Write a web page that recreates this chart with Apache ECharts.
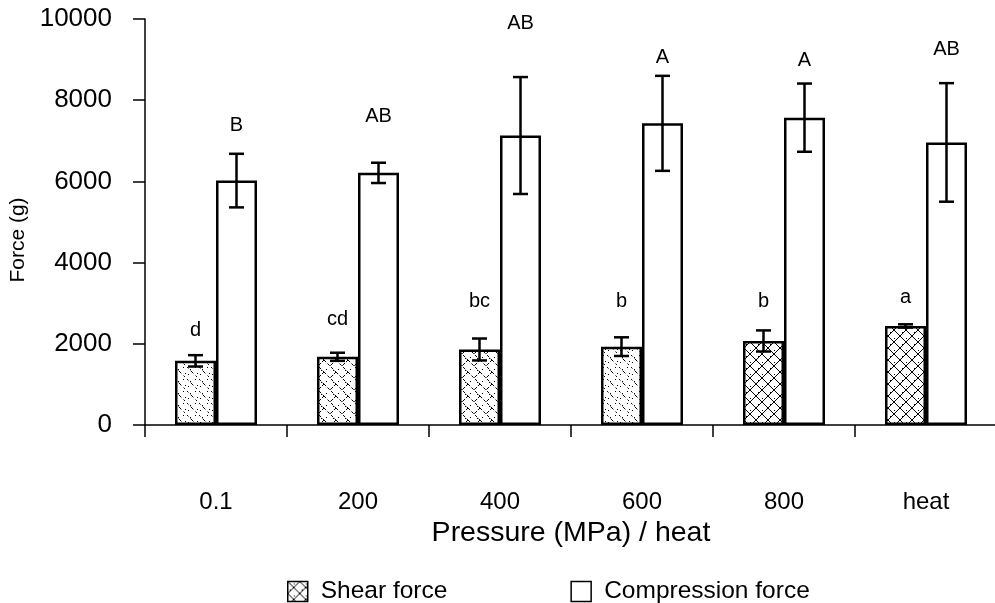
<!DOCTYPE html>
<html>
<head>
<meta charset="utf-8">
<script src="https://cdn.jsdelivr.net/npm/echarts@6/dist/echarts.min.js"></script>
<style>
html,body{margin:0;padding:0;background:#fff;}
#chart{width:995px;height:603px;}
</style>
</head>
<body>
<div id="chart"></div>
<script>
// ---- data ----
const categories = ['0.1', '200', '400', '600', '800', 'heat'];
const yTicks = [0, 2000, 4000, 6000, 8000, 10000];
const shearForce = [1580, 1680, 1860, 1930, 2070, 2440];
const shearErr = [140, 100, 270, 230, 260, 40];
const shearLetters = ['d', 'cd', 'bc', 'b', 'b', 'a'];
const shearLetterAt = [2340, 2610, 3030, 3050, 3050, 3150];
const compForce = [6020, 6210, 7130, 7430, 7570, 6960];
const compErr = [660, 250, 1440, 1170, 840, 1460];
const compLetters = ['B', 'AB', 'AB', 'A', 'A', 'AB'];
const compLetterAt = [7370, 7590, 9880, 9060, 8990, 9240];

// ---- hatch patterns ----
function makePattern(kind) {
  const c = document.createElement('canvas');
  c.width = 12; c.height = 12;
  const g = c.getContext('2d');
  g.fillStyle = '#fff'; g.fillRect(0, 0, 12, 12);
  g.strokeStyle = '#000'; g.fillStyle = '#000'; g.lineWidth = 1;
  if (kind === 'cross') {
    g.beginPath();
    g.moveTo(0, 0); g.lineTo(12, 12);
    g.moveTo(12, 0); g.lineTo(0, 12);
    g.stroke();
    g.fillRect(6, 2, 1, 1); g.fillRect(2, 8, 1, 1);
  } else if (kind === 'medium') {
    g.setLineDash([3, 2]);
    g.beginPath();
    g.moveTo(0, 0); g.lineTo(12, 12);
    g.moveTo(12, 0); g.lineTo(6, 6);
    g.stroke();
    g.fillRect(8, 3, 1, 1); g.fillRect(2, 9, 1, 1); g.fillRect(9, 10, 1, 1);
  } else {
    g.setLineDash([2, 3]);
    g.beginPath();
    g.moveTo(0, 0); g.lineTo(12, 12);
    g.stroke();
    g.fillRect(8, 2, 1, 1); g.fillRect(3, 7, 1, 1); g.fillRect(10, 9, 1, 1); g.fillRect(5, 1, 1, 1);
  }
  return { image: c, repeat: 'repeat' };
}
const patSparse = makePattern('sparse');
const patMedium = makePattern('medium');
const patCross = makePattern('cross');
const shearPatterns = [patSparse, patMedium, patMedium, patSparse, patCross, patCross];

const BAR_W = 41;
const FONT = 'Liberation Sans';

function errRenderer(values, errs, letters, letterAt, side) {
  return function (params, api) {
    const i = params.dataIndex;
    const v = values[i], e = errs[i];
    const base = api.coord([i, v]);
    const x = base[0] + side * BAR_W / 2;
    const yt = api.coord([i, v + e])[1];
    const yb = api.coord([i, v - e])[1];
    const yl = api.coord([i, letterAt[i]])[1];
    const st = { stroke: '#000', lineWidth: 2.5 };
    return {
      type: 'group',
      children: [
        { type: 'line', shape: { x1: x, y1: yt, x2: x, y2: yb }, style: st },
        { type: 'line', shape: { x1: x - 7.5, y1: yt, x2: x + 7.5, y2: yt }, style: st },
        { type: 'line', shape: { x1: x - 7.5, y1: yb, x2: x + 7.5, y2: yb }, style: st },
        { type: 'text', x: x, y: yl, style: { text: letters[i], fill: '#000', font: '20px ' + FONT, textAlign: 'center', textVerticalAlign: 'middle' } }
      ]
    };
  };
}

const chart = echarts.init(document.getElementById('chart'));
chart.setOption({
  backgroundColor: '#fff',
  animation: false,
  grid: { left: 145, top: 19, width: 852, height: 406, containLabel: false, outerBoundsMode: 'none' },
  legend: {
    data: ['Shear force', 'Compression force'],
    left: 282, top: 574,
    itemWidth: 20, itemHeight: 20, itemGap: 123,
    icon: 'rect',
    itemStyle: { borderColor: '#000', borderWidth: 1.5 },
    textStyle: { fontFamily: FONT, fontSize: 24.5, color: '#000', padding: [0, 0, 0, 8] }
  },
  xAxis: {
    type: 'category',
    data: categories,
    name: 'Pressure (MPa) / heat',
    nameLocation: 'middle',
    nameGap: 93,
    nameTextStyle: { fontFamily: FONT, fontSize: 28.5, color: '#000' },
    axisLine: { lineStyle: { color: '#000', width: 1.5 } },
    axisTick: { show: true, length: 12, lineStyle: { color: '#000', width: 1.5 } },
    axisLabel: { margin: 65, fontFamily: FONT, fontSize: 24, color: '#000' },
    splitLine: { show: false }
  },
  yAxis: {
    type: 'value',
    min: yTicks[0], max: yTicks[yTicks.length - 1], interval: yTicks[1] - yTicks[0],
    name: 'Force (g)',
    nameLocation: 'middle',
    nameGap: 112,
    nameTextStyle: { fontFamily: FONT, fontSize: 21, color: '#000', padding: [0, 36, 0, 0] },
    axisLine: { show: true, lineStyle: { color: '#000', width: 1.5 } },
    axisTick: { show: true, length: 12, lineStyle: { color: '#000', width: 1.5 } },
    axisLabel: { margin: 33, fontFamily: FONT, fontSize: 26, color: '#000', formatter: v => String(v) },
    splitLine: { show: false }
  },
  series: [
    {
      name: 'Shear force', type: 'bar', barWidth: BAR_W, barGap: '0%',
      itemStyle: { color: patCross, borderColor: '#000', borderWidth: 2.5 },
      data: shearForce.map((v, i) => ({ value: v, itemStyle: { color: shearPatterns[i] } }))
    },
    {
      name: 'Compression force', type: 'bar', barWidth: BAR_W, barGap: '0%',
      itemStyle: { color: '#fff', borderColor: '#000', borderWidth: 2.5 },
      data: compForce
    },
    {
      type: 'custom', z: 5,
      renderItem: errRenderer(shearForce, shearErr, shearLetters, shearLetterAt, -1),
      data: shearForce.map((v, i) => [i, v])
    },
    {
      type: 'custom', z: 5,
      renderItem: errRenderer(compForce, compErr, compLetters, compLetterAt, 1),
      data: compForce.map((v, i) => [i, v])
    }
  ]
});
</script>
</body>
</html>
